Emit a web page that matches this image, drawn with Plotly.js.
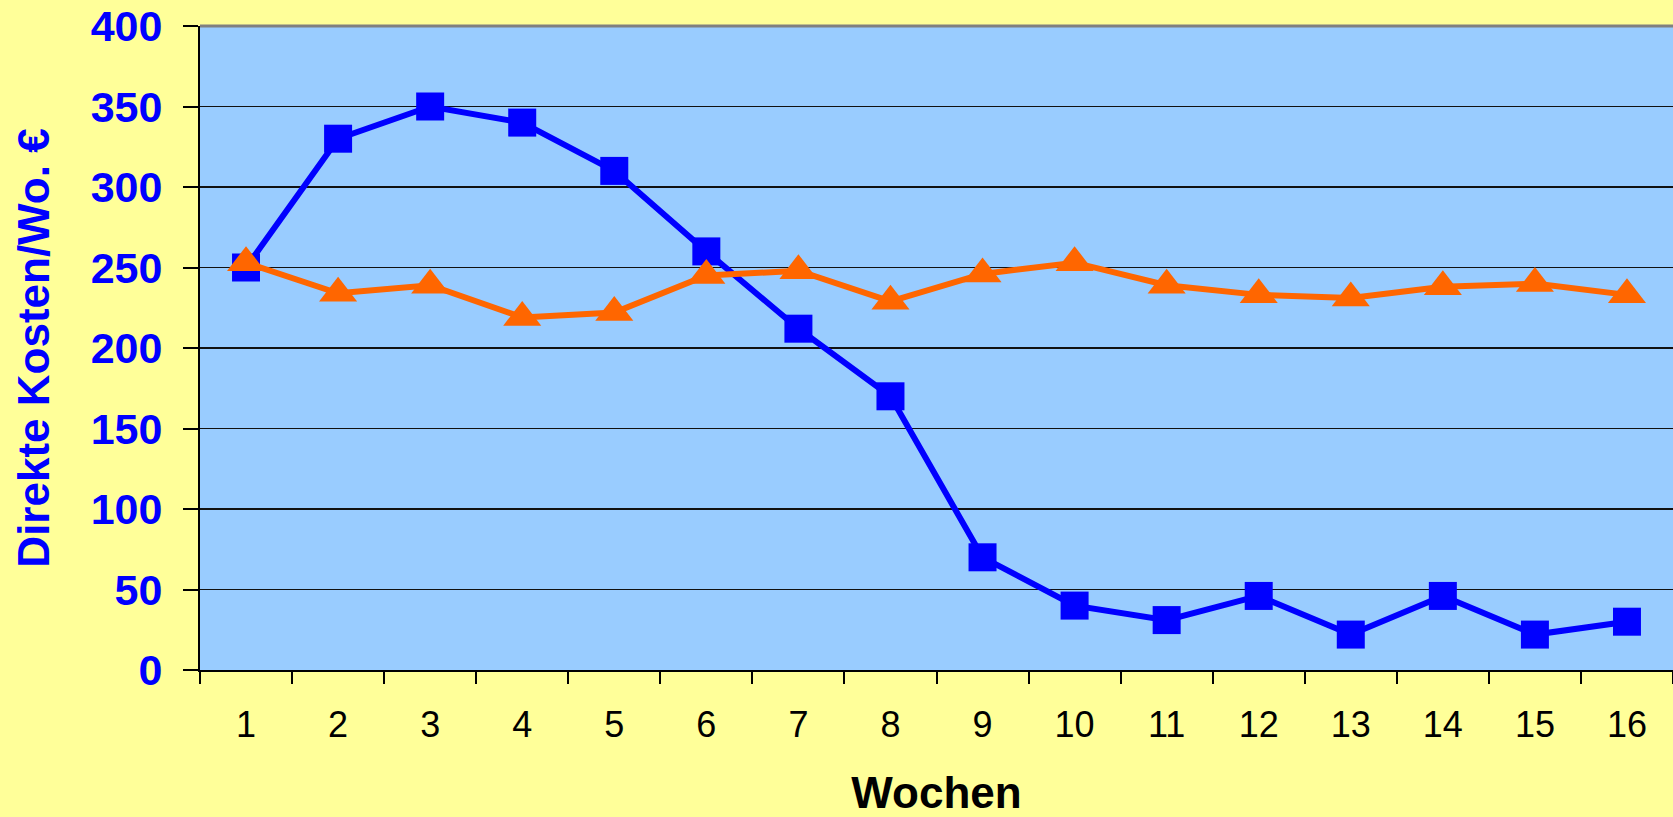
<!DOCTYPE html>
<html>
<head>
<meta charset="utf-8">
<script src="https://cdn.plot.ly/plotly-3.0.1.min.js"></script>
<style>
  html, body { margin: 0; padding: 0; background: #FFFF99; }
  #chart { width: 1673px; height: 817px; }
</style>
</head>
<body>
<div id="chart"></div>
<script>
// Data
const weeks = ["1","2","3","4","5","6","7","8","9","10","11","12","13","14","15","16"];
const seriesBlue = [250, 330, 350, 340, 310, 260, 212, 170, 70, 40, 31, 46, 22, 46, 22, 30];
const seriesOrange = [253, 234, 239, 219, 222, 245, 248, 229, 246, 253, 239, 233, 231, 238, 240, 233];
const yTicks = [0, 50, 100, 150, 200, 250, 300, 350, 400];

const FONT = "Liberation Sans, Arial, Helvetica, sans-serif";

const traces = [
  {
    type: "scatter", mode: "lines+markers",
    x: weeks, y: seriesBlue, name: "Blau",
    line: { color: "#0000FF", width: 6 },
    marker: { symbol: "square", size: 28, color: "#0000FF", line: { width: 0 } },
    cliponaxis: false
  },
  {
    type: "scatter", mode: "lines+markers",
    x: weeks, y: seriesOrange, name: "Orange",
    line: { color: "#FF6600", width: 6 },
    marker: { symbol: "triangle-up", size: 33, color: "#FF6600", line: { width: 0 } },
    cliponaxis: false
  }
];

const layout = {
  width: 1673, height: 817,
  margin: { l: 200, r: 0, t: 26, b: 147, pad: 0 },
  paper_bgcolor: "#FFFF99",
  plot_bgcolor: "#99CCFF",
  showlegend: false,
  font: { family: FONT },
  xaxis: {
    type: "category",
    categoryorder: "array", categoryarray: weeks,
    range: [-0.5, weeks.length - 0.5],
    autorange: false,
    tickson: "boundaries",
    ticks: "outside", ticklen: 12, tickwidth: 2, tickcolor: "#000",
    showgrid: false, zeroline: false,
    showline: true, linecolor: "#000", linewidth: 2,
    tickfont: { family: FONT, size: 36, color: "#000" },
    ticklabelstandoff: 22,
    title: { text: "Wochen", font: { family: FONT, size: 44, color: "#000", weight: "bold" }, standoff: 38 },
    fixedrange: true
  },
  yaxis: {
    range: [0, 400],
    autorange: false,
    tickmode: "array", tickvals: yTicks, ticktext: yTicks.map(String),
    ticks: "outside", ticklen: 15, tickwidth: 2, tickcolor: "#000",
    showgrid: true, gridcolor: "#111", gridwidth: 1.5,
    zeroline: false,
    showline: true, linecolor: "#000", linewidth: 2,
    tickfont: { family: FONT, size: 43, color: "#0000FF", weight: "bold" },
    ticklabelstandoff: 12,
    title: { text: "Direkte Kosten/Wo. €", font: { family: FONT, size: 44, color: "#0000FF", weight: "bold" }, standoff: 27 },
    fixedrange: true
  },
  shapes: [
    { type: "line", xref: "paper", yref: "paper", x0: 0, x1: 1, y0: 1, y1: 1,
      line: { color: "#808080", width: 3 }, layer: "above" }
  ]
};

Plotly.newPlot("chart", traces, layout, { displayModeBar: false, staticPlot: true });
</script>
</body>
</html>
